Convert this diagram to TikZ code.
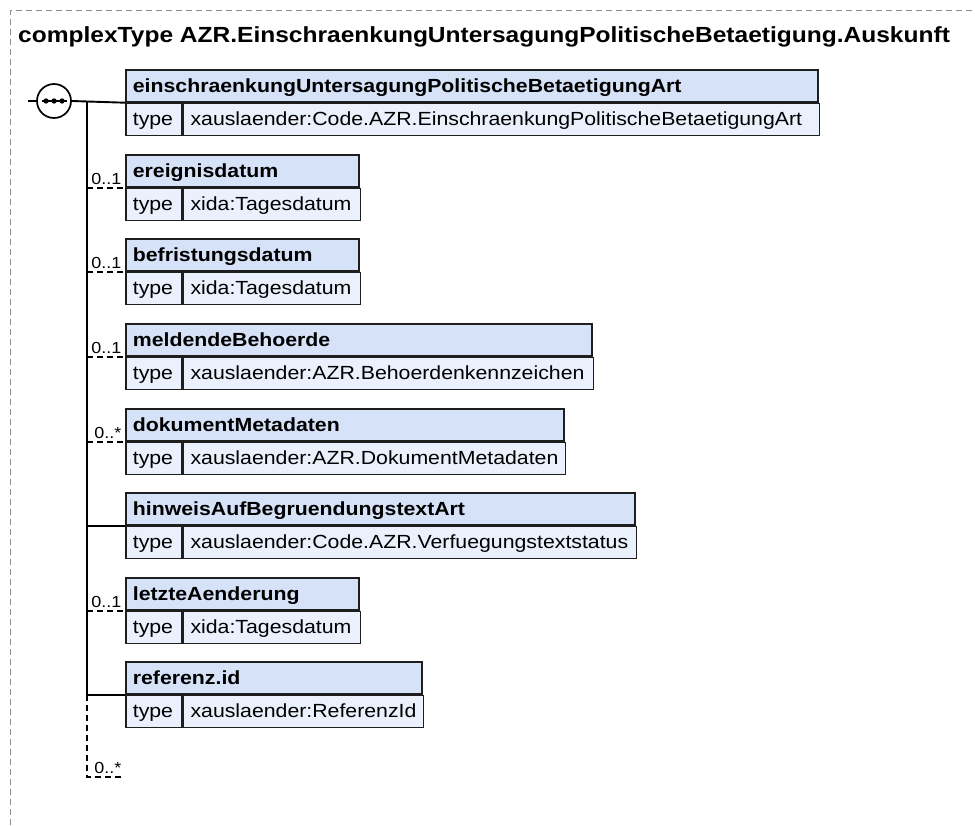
\documentclass[tikz,border=0pt]{standalone}
\usepackage{fontspec}
\setmainfont{Liberation Sans}[FakeStretch=1.12]
\usepackage{tikz}
\usetikzlibrary{positioning,calc}

\definecolor{hdrfill}{RGB}{214,226,248}
\definecolor{rowfill}{RGB}{234,240,252}
\definecolor{boxline}{RGB}{30,30,30}
\definecolor{framegray}{RGB}{140,140,140}

\begin{document}
\begin{tikzpicture}[x=1pt, y=-1pt,
  hdr/.style={draw=boxline, fill=hdrfill, line width=1.7pt, anchor=north west,
    minimum height=32pt, inner xsep=7pt, inner ysep=0pt, text width=#1, align=left,
    text height=12.5pt, text depth=0pt, font=\fontsize{19}{22}\selectfont\bfseries},
  tlab/.style={draw=boxline, fill=rowfill, line width=1.7pt, anchor=north west,
    minimum height=32pt, inner xsep=7pt, inner ysep=0pt, text width=42pt, align=left,
    text height=12.5pt, text depth=0pt, font=\fontsize{19}{22}\selectfont},
  tval/.style={tlab, text width=#1},
  mult/.style={anchor=base east, inner sep=0pt, font=\fontsize{16}{18}\selectfont},
  wire/.style={draw=black, line width=1.9pt},
  opt/.style={wire, dash pattern=on 6pt off 4pt},
  frame/.style={draw=framegray, line width=1.1pt, dash pattern=on 6pt off 4pt}
]
\useasboundingbox (0,0) rectangle (975,825);

% outer frame and title
\draw[frame] (10.5,825) -- (10.5,10.5) -- (975,10.5);
\node[anchor=base west, inner sep=0pt, font=\fontsize{21.9}{26}\selectfont\bfseries]
  (title) at (18,42) {complexType AZR.EinschraenkungUntersagungPolitischeBetaetigung.Auskunft};

% elements
\node[hdr=678pt] (einschr) at (125,69) {einschraenkungUntersagungPolitischeBetaetigungArt};
\node[tlab] (einschr-t) at (einschr.south west) {type};
\node[tval=622pt] (einschr-v) at (einschr-t.north east) {xauslaender:Code.AZR.EinschraenkungPolitischeBetaetigungArt};

\node[hdr=219pt] (ereig) at (125,154) {ereignisdatum};
\node[tlab] (ereig-t) at (ereig.south west) {type};
\node[tval=163pt] (ereig-v) at (ereig-t.north east) {xida:Tagesdatum};

\node[hdr=219pt] (befrist) at (125,238) {befristungsdatum};
\node[tlab] (befrist-t) at (befrist.south west) {type};
\node[tval=163pt] (befrist-v) at (befrist-t.north east) {xida:Tagesdatum};

\node[hdr=452pt] (meld) at (125,323) {meldendeBehoerde};
\node[tlab] (meld-t) at (meld.south west) {type};
\node[tval=396pt] (meld-v) at (meld-t.north east) {xauslaender:AZR.Behoerdenkennzeichen};

\node[hdr=424pt] (dokm) at (125,408) {dokumentMetadaten};
\node[tlab] (dokm-t) at (dokm.south west) {type};
\node[tval=368pt] (dokm-v) at (dokm-t.north east) {xauslaender:AZR.DokumentMetadaten};

\node[hdr=495pt] (hinw) at (125,492) {hinweisAufBegruendungstextArt};
\node[tlab] (hinw-t) at (hinw.south west) {type};
\node[tval=439pt] (hinw-v) at (hinw-t.north east) {xauslaender:Code.AZR.Verfuegungstextstatus};

\node[hdr=219pt] (letzt) at (125,577) {letzteAenderung};
\node[tlab] (letzt-t) at (letzt.south west) {type};
\node[tval=163pt] (letzt-v) at (letzt-t.north east) {xida:Tagesdatum};

\node[hdr=282pt] (ref) at (125,661) {referenz.id};
\node[tlab] (ref-t) at (ref.south west) {type};
\node[tval=226pt] (ref-v) at (ref-t.north east) {xauslaender:ReferenzId};

% sequence compositor
\node[circle, draw=black, fill=white, line width=1.7pt, minimum size=34pt, inner sep=0pt]
  (seq) at (54,101) {};
\draw[line width=1.4pt] ($(seq.center)+(-12.5,0)$) -- ($(seq.center)+(12.5,0)$);
\fill ($(seq.center)+(-8,0)$) circle (2.7pt) (seq.center) circle (2.7pt)
  ($(seq.center)+(8,0)$) circle (2.7pt);
\coordinate (in) at (28,101);
\coordinate (trunk) at (87,101);
\coordinate (tail) at (87,777);
\coordinate (tailend) at (122,777);
\draw[wire] (in) -- (seq.west);
\draw[wire] (seq.east) -- (einschr.south west);
\draw[wire] (trunk) -- (trunk |- ref.south west);
\draw[opt] (trunk |- ref.south west) -- (tail) -- (tailend);

% connectors
\draw[opt] (trunk |- ereig.south west) -- (ereig.south west);
\draw[opt] (trunk |- befrist.south west) -- (befrist.south west);
\draw[opt] (trunk |- meld.south west) -- (meld.south west);
\draw[opt] (trunk |- dokm.south west) -- (dokm.south west);
\draw[wire] (trunk |- hinw.south west) -- (hinw.south west);
\draw[opt] (trunk |- letzt.south west) -- (letzt.south west);
\draw[wire] (trunk |- ref.south west) -- (ref.south west);

% multiplicities
\node[mult] (m-ereig) at ($(ereig.south west)+(-3.5,-3)$) {0..1};
\node[mult] (m-befrist) at ($(befrist.south west)+(-3.5,-3)$) {0..1};
\node[mult] (m-meld) at ($(meld.south west)+(-3.5,-3)$) {0..1};
\node[mult] (m-dokm) at ($(dokm.south west)+(-3.5,-3)$) {0..*};
\node[mult] (m-letzt) at ($(letzt.south west)+(-3.5,-3)$) {0..1};
\node[mult] (m-seq) at ($(tailend)+(-0.5,-4)$) {0..*};
\end{tikzpicture}
\end{document}
